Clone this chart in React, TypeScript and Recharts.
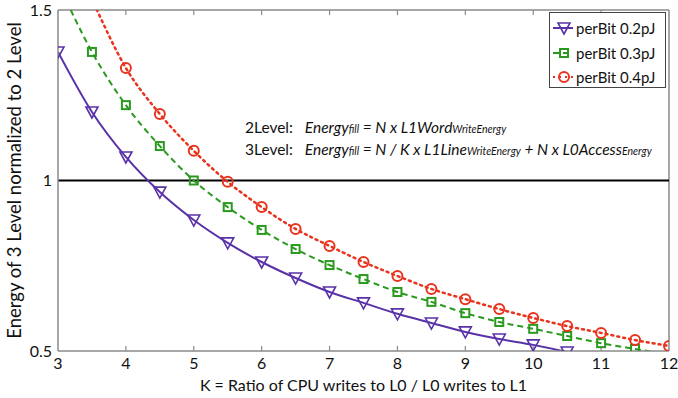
import React from "react";
import { LineChart, Line, XAxis, YAxis, ReferenceLine, Label } from "recharts";

const kValues = [3, 3.5, 4, 4.5, 5, 5.5, 6, 6.5, 7, 7.5, 8, 8.5, 9, 9.5, 10, 10.5, 11, 11.5, 12];
const perBit02 = [1.377, 1.201, 1.069, 0.966, 0.884, 0.817, 0.761, 0.714, 0.673, 0.641, 0.609, 0.582, 0.556, 0.535, 0.518, 0.497, null, null, null];
const perBit03 = [1.58, 1.377, 1.221, 1.101, 1.0, 0.922, 0.855, 0.799, 0.752, 0.711, 0.673, 0.644, 0.611, 0.585, 0.565, 0.544, 0.523, 0.506, 0.49];
const perBit04 = [1.74, 1.53, 1.33, 1.195, 1.087, 0.996, 0.922, 0.858, 0.808, 0.761, 0.72, 0.682, 0.652, 0.623, 0.597, 0.573, 0.553, 0.532, 0.515];
const xTicks = [3, 4, 5, 6, 7, 8, 9, 10, 11, 12];
const yTicks = [0.5, 1, 1.5];

const PURPLE = "#5a32a8";
const GREEN = "#2a9a1e";
const RED = "#e8341e";
const AXIS = "#8a8a8a";
const FONT = "Lato, 'Open Sans', sans-serif";

const data = kValues.map((k, i) => ({ k, p2: perBit02[i], p3: perBit03[i], p4: perBit04[i] }));

type Kind = "tri" | "sq" | "circ";

function Marker({ kind, color, cx, cy }: { kind: Kind; color: string; cx: number; cy: number }) {
  if (kind === "tri") {
    return (
      <polygon
        points={`${cx - 6},${cy - 5} ${cx + 6},${cy - 5} ${cx},${cy + 6}`}
        fill="none"
        stroke={color}
        strokeWidth={1.6}
      />
    );
  }
  if (kind === "sq") {
    return <rect x={cx - 4} y={cy - 4} width={8} height={8} fill="none" stroke={color} strokeWidth={2} />;
  }
  return <circle cx={cx} cy={cy} r={5} fill="none" stroke={color} strokeWidth={2} />;
}

const makeDot = (kind: Kind, color: string) => (props: any) => {
  const { cx, cy, value, index } = props;
  if (value == null || cx == null || cy == null || value > 1.5 || value < 0.495) {
    return <g key={`d-${index}`} />;
  }
  return (
    <g key={`d-${index}`}>
      <Marker kind={kind} color={color} cx={cx} cy={cy} />
    </g>
  );
};

const series = [
  { key: "p2", name: "perBit 0.2pJ", color: PURPLE, kind: "tri" as Kind, dash: undefined as string | undefined },
  { key: "p3", name: "perBit 0.3pJ", color: GREEN, kind: "sq" as Kind, dash: "6 4" },
  { key: "p4", name: "perBit 0.4pJ", color: RED, kind: "circ" as Kind, dash: "2 4" },
];

const sub = { fontSize: 10.5 };
// inward tick length in y units (about 5px)
const TICK_LEN = 0.015;

export default function App() {
  return (
    <div style={{ position: "absolute", left: 0, top: 0, width: 678, height: 398, background: "#fff", fontFamily: FONT }}>
      <LineChart width={678} height={398} data={data} margin={{ top: 10, right: 9, left: 0, bottom: 0 }}>
        <XAxis
          dataKey="k"
          type="number"
          domain={[3, 12]}
          ticks={xTicks}
          allowDataOverflow
          height={47}
          stroke={AXIS}
          strokeWidth={1.5}
          tickLine={false}
          tickMargin={1}
          tick={{ fill: "#111", fontSize: 16, fontFamily: FONT }}
        >
          <Label
            value="K = Ratio of CPU writes to L0 / L0 writes to L1"
            position="insideBottom"
            offset={7}
            style={{ fill: "#111", fontSize: 16, fontFamily: FONT }}
          />
        </XAxis>
        <YAxis
          type="number"
          domain={[0.5, 1.5]}
          ticks={yTicks}
          allowDataOverflow
          width={58}
          stroke={AXIS}
          strokeWidth={1.5}
          tickLine={false}
          tickMargin={0}
          tick={{ fill: "#111", fontSize: 16, fontFamily: FONT }}
        >
          <Label
            value="Energy of 3 Level normalized to 2 Level"
            angle={-90}
            position="insideLeft"
            offset={14}
            style={{ textAnchor: "middle", fill: "#111", fontSize: 18.5, fontFamily: FONT }}
          />
        </YAxis>
        <ReferenceLine y={1.5} stroke={AXIS} strokeWidth={1.5} />
        <ReferenceLine x={12} stroke={AXIS} strokeWidth={1.5} />
        {xTicks.slice(1, -1).map((k) => (
          <ReferenceLine
            key={`bt-${k}`}
            segment={[{ x: k, y: 0.5 }, { x: k, y: 0.5 + TICK_LEN }]}
            stroke={AXIS}
            strokeWidth={1.2}
          />
        ))}
        {xTicks.slice(1, -1).map((k) => (
          <ReferenceLine
            key={`tt-${k}`}
            segment={[{ x: k, y: 1.5 }, { x: k, y: 1.5 - TICK_LEN }]}
            stroke={AXIS}
            strokeWidth={1.2}
          />
        ))}
        <ReferenceLine y={1} stroke="#000" strokeWidth={2} />
        {series.map((s) => (
          <Line
            key={s.key}
            dataKey={s.key}
            name={s.name}
            type="monotone"
            stroke={s.color}
            strokeWidth={s.key === "p4" ? 2.5 : 2}
            strokeDasharray={s.dash}
            strokeLinecap={s.key === "p4" ? "round" : "butt"}
            dot={makeDot(s.kind, s.color)}
            activeDot={false}
            connectNulls={false}
            isAnimationActive={false}
          />
        ))}
      </LineChart>

      <div
        style={{
          position: "absolute",
          left: 549,
          top: 12,
          width: 117,
          height: 76,
          border: "1px solid #444",
          background: "#fff",
          padding: "3px 0 0 3px",
          boxSizing: "border-box",
        }}
      >
        {series.map((s) => (
          <div
            key={s.key}
            style={{ display: "flex", alignItems: "center", height: 24.5, fontSize: 15, color: "#111", whiteSpace: "nowrap" }}
          >
            <svg width={20} height={16} style={{ marginRight: 3, flex: "none" }}>
              <line x1={0} y1={8} x2={20} y2={8} stroke={s.color} strokeWidth={2} strokeDasharray={s.dash} />
              <Marker kind={s.kind} color={s.color} cx={11} cy={8} />
            </svg>
            <span>{s.name}</span>
          </div>
        ))}
      </div>

      <div style={{ position: "absolute", left: 245, top: 117, fontSize: 15.5, color: "#111", lineHeight: "20px", whiteSpace: "nowrap" }}>
        <div>
          2Level:&nbsp;&nbsp; <i>Energy<span style={sub}>fill</span> = N x L1Word<span style={sub}>WriteEnergy</span></i>
        </div>
        <div>
          3Level:&nbsp;&nbsp; <i>
            Energy<span style={sub}>fill</span> = N / K x L1Line<span style={sub}>WriteEnergy</span> + N x L0Access
            <span style={sub}>Energy</span>
          </i>
        </div>
      </div>
    </div>
  );
}
